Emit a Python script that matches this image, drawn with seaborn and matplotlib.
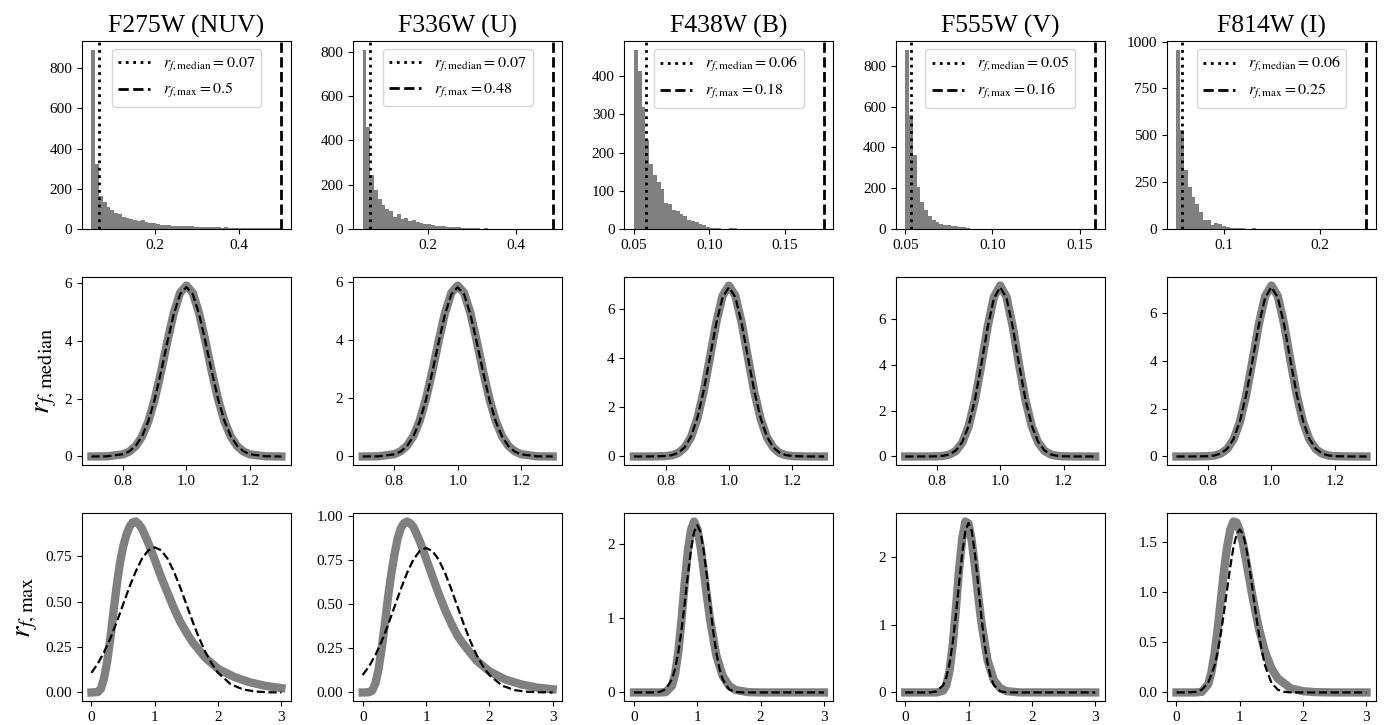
import numpy as np
import matplotlib
matplotlib.use("Agg")
import matplotlib.pyplot as plt
import seaborn as sns

# === FONT SETUP ===
plt.rcParams["font.family"] = "serif"
plt.rcParams["font.serif"] = ["Liberation Serif", "DejaVu Serif"]
plt.rcParams["mathtext.fontset"] = "stix"
plt.rcParams["xtick.labelsize"] = 11
plt.rcParams["ytick.labelsize"] = 11

# === DATA ===
filters = ["F275W (NUV)", "F336W (U)", "F438W (B)", "F555W (V)", "F814W (I)"]

# top row: histograms of r_f (50 bins between min and max)
r_min = [0.05, 0.05, 0.05, 0.05, 0.05]
r_max = [0.50, 0.485, 0.176, 0.159, 0.249]
r_median = [0.067, 0.067, 0.058, 0.0534, 0.0555]
median_label = ["0.07", "0.07", "0.06", "0.05", "0.06"]
max_label = ["0.5", "0.48", "0.18", "0.16", "0.25"]

counts_f275w = [890, 325, 165, 135, 110, 95, 80, 76, 62, 57, 50, 46, 40, 44, 35, 31, 30, 26,
                22, 19, 18, 17, 15, 16, 14, 13, 14, 12, 11, 12, 10, 9, 8, 8, 7, 9, 5, 4, 5,
                4, 3, 4, 3, 3, 5, 4, 3, 3, 4, 5]
counts_f336w = [807, 460, 243, 175, 137, 107, 92, 81, 54, 66, 45, 48, 36, 40, 30, 27, 24, 22,
                18, 15, 14, 12, 10, 11, 9, 10, 6, 5, 7, 3, 4, 2, 3, 2, 1, 2, 1, 1, 0, 1, 0, 0,
                1, 0, 0, 0, 0, 0, 0, 1]
counts_f438w = [468, 414, 320, 232, 171, 141, 123, 106, 68, 65, 49, 47, 40, 33, 24, 21, 18, 12,
                10, 6, 4, 3, 2, 1, 1, 3, 2, 0, 0, 0, 0, 0, 0, 0, 0, 0, 0, 0, 0, 0, 0, 0, 0, 0,
                0, 0, 0, 0, 0, 1]
counts_f555w = [877, 558, 365, 206, 133, 92, 62, 43, 34, 26, 21, 18, 15, 13, 10, 8, 3, 1, 0, 0,
                0, 0, 0, 0, 0, 0, 0, 0, 0, 0, 0, 0, 0, 0, 0, 0, 0, 0, 0, 0, 0, 0, 0, 0, 0, 0,
                0, 0, 0, 1]
counts_f814w = [955, 528, 317, 225, 171, 135, 91, 46, 46, 20, 32, 25, 14, 10, 8, 8, 7, 6, 0, 0,
                5, 0, 0, 0, 0, 0, 0, 0, 0, 0, 0, 0, 0, 0, 0, 0, 0, 0, 0, 0, 0, 0, 0, 0, 0, 0,
                0, 0, 0, 1]
hist_counts = [counts_f275w, counts_f336w, counts_f438w, counts_f555w, counts_f814w]
hist_yticks = [[0, 200, 400, 600, 800], [0, 200, 400, 600, 800], [0, 100, 200, 300, 400],
               [0, 200, 400, 600, 800], [0, 250, 500, 750, 1000]]

# middle row: r_f,median curves
x_mid = [0.70, 0.75, 0.80, 0.82, 0.84, 0.86, 0.88, 0.90, 0.92, 0.94, 0.96, 0.98, 1.00,
         1.02, 1.04, 1.06, 1.08, 1.10, 1.12, 1.14, 1.16, 1.18, 1.20, 1.25, 1.30]
mid_grey_f275w = [0.00, 0.006, 0.074, 0.17, 0.36, 0.69, 1.22, 1.98, 2.93, 3.98, 4.95, 5.65, 5.90,
                  5.65, 4.95, 3.98, 2.93, 1.98, 1.22, 0.69, 0.36, 0.17, 0.074, 0.006, 0.00]
mid_dash_f275w = [0.00, 0.006, 0.08, 0.18, 0.37, 0.70, 1.23, 1.98, 2.93, 3.96, 4.92, 5.60, 5.85,
                  5.60, 4.92, 3.96, 2.93, 1.98, 1.23, 0.70, 0.37, 0.18, 0.08, 0.006, 0.00]
mid_grey_f336w = [0.00, 0.006, 0.08, 0.18, 0.37, 0.70, 1.23, 1.99, 2.94, 3.98, 4.94, 5.63, 5.88,
                  5.63, 4.94, 3.98, 2.94, 1.99, 1.23, 0.70, 0.37, 0.18, 0.08, 0.006, 0.00]
mid_dash_f336w = [0.00, 0.006, 0.075, 0.17, 0.36, 0.69, 1.21, 1.96, 2.91, 3.94, 4.90, 5.58, 5.82,
                  5.58, 4.90, 3.94, 2.91, 1.96, 1.21, 0.69, 0.36, 0.17, 0.075, 0.006, 0.00]
mid_grey_f438w = [0.00, 0.00, 0.016, 0.05, 0.14, 0.36, 0.78, 1.53, 2.63, 4.02, 5.45, 6.54, 6.95,
                  6.54, 5.45, 4.02, 2.63, 1.53, 0.78, 0.36, 0.14, 0.05, 0.016, 0.00, 0.00]
mid_dash_f438w = [0.00, 0.001, 0.018, 0.056, 0.15, 0.37, 0.81, 1.56, 2.66, 4.03, 5.42, 6.48, 6.88,
                  6.48, 5.42, 4.03, 2.66, 1.56, 0.81, 0.37, 0.15, 0.056, 0.018, 0.001, 0.00]
mid_grey_f555w = [0.00, 0.00, 0.007, 0.026, 0.085, 0.24, 0.60, 1.30, 2.44, 3.97, 5.63, 6.95, 7.45,
                  6.95, 5.63, 3.97, 2.44, 1.30, 0.60, 0.24, 0.085, 0.026, 0.007, 0.00, 0.00]
mid_dash_f555w = [0.00, 0.00, 0.008, 0.03, 0.09, 0.26, 0.63, 1.33, 2.46, 3.98, 5.61, 6.89, 7.38,
                  6.89, 5.61, 3.98, 2.46, 1.33, 0.63, 0.26, 0.09, 0.03, 0.008, 0.00, 0.00]
mid_grey_f814w = [0.00, 0.00, 0.012, 0.039, 0.12, 0.31, 0.71, 1.43, 2.56, 4.01, 5.53, 6.71, 7.15,
                  6.71, 5.53, 4.01, 2.56, 1.43, 0.71, 0.31, 0.12, 0.039, 0.012, 0.00, 0.00]
mid_dash_f814w = [0.00, 0.00, 0.013, 0.043, 0.125, 0.32, 0.73, 1.46, 2.58, 4.01, 5.50, 6.65, 7.08,
                  6.65, 5.50, 4.01, 2.58, 1.46, 0.73, 0.32, 0.125, 0.043, 0.013, 0.00, 0.00]
mid_grey = [mid_grey_f275w, mid_grey_f336w, mid_grey_f438w, mid_grey_f555w, mid_grey_f814w]
mid_dash = [mid_dash_f275w, mid_dash_f336w, mid_dash_f438w, mid_dash_f555w, mid_dash_f814w]

# bottom row: r_f,max curves (each read at its own x samples)
xg_wide = [0, 0.1, 0.15, 0.2, 0.25, 0.3, 0.35, 0.4, 0.45, 0.5, 0.55, 0.6, 0.65, 0.7, 0.75, 0.8,
           0.85, 0.9, 1.0, 1.1, 1.2, 1.3, 1.4, 1.5, 1.6, 1.8, 2.0, 2.25, 2.5, 2.75, 3.0]
xd_wide = [0, 0.1, 0.2, 0.3, 0.4, 0.5, 0.6, 0.7, 0.8, 0.9, 1.0, 1.1, 1.2, 1.3, 1.4, 1.5, 1.6,
           1.7, 1.8, 1.9, 2.0, 2.2, 2.4, 2.6, 2.8, 3.0]
low_grey_f275w = [0.0, 0.002, 0.02, 0.08, 0.175, 0.30, 0.45, 0.59, 0.71, 0.80, 0.865, 0.91, 0.935,
                  0.94, 0.925, 0.90, 0.86, 0.82, 0.73, 0.635, 0.55, 0.465, 0.39, 0.33, 0.275,
                  0.19, 0.13, 0.086, 0.056, 0.036, 0.024]
low_dash_f275w = [0.108, 0.158, 0.222, 0.299, 0.388, 0.484, 0.580, 0.666, 0.737, 0.782, 0.798,
                  0.782, 0.737, 0.666, 0.580, 0.484, 0.388, 0.299, 0.222, 0.158, 0.108, 0.045,
                  0.016, 0.005, 0.001, 0.0]
low_grey_f336w = [0.0, 0.001, 0.011, 0.05, 0.13, 0.25, 0.39, 0.54, 0.67, 0.78, 0.87, 0.93, 0.96,
                  0.97, 0.96, 0.94, 0.90, 0.86, 0.76, 0.66, 0.56, 0.47, 0.39, 0.32, 0.27,
                  0.18, 0.12, 0.074, 0.046, 0.028, 0.018]
low_dash_f336w = [0.099, 0.148, 0.212, 0.291, 0.383, 0.484, 0.585, 0.678, 0.754, 0.803, 0.82,
                  0.803, 0.754, 0.678, 0.585, 0.484, 0.383, 0.291, 0.212, 0.148, 0.099, 0.039,
                  0.013, 0.004, 0.001, 0.0]

xg_f438w = [0, 0.4, 0.5, 0.6, 0.65, 0.7, 0.75, 0.8, 0.85, 0.9, 0.95, 1.0, 1.05, 1.1, 1.15, 1.2,
            1.3, 1.4, 1.5, 1.6, 1.8, 2.0, 3.0]
low_grey_f438w = [0, 0, 0.004, 0.088, 0.25, 0.54, 0.97, 1.46, 1.90, 2.19, 2.30, 2.20, 1.97, 1.65,
                  1.31, 0.99, 0.50, 0.225, 0.092, 0.035, 0.004, 0, 0]
xd_narrow = [0, 0.3, 0.4, 0.5, 0.6, 0.65, 0.7, 0.75, 0.8, 0.85, 0.9, 0.95, 1.0, 1.05, 1.1, 1.15,
             1.2, 1.25, 1.3, 1.35, 1.4, 1.5, 1.6, 1.7, 2.0, 3.0]
low_dash_f438w = [0, 0.0005, 0.007, 0.042, 0.177, 0.321, 0.538, 0.833, 1.191, 1.573, 1.919,
                  2.162, 2.25, 2.162, 1.919, 1.573, 1.191, 0.833, 0.538, 0.321, 0.177, 0.042,
                  0.007, 0.0005, 0, 0]

xg_f555w = [0, 0.5, 0.6, 0.65, 0.7, 0.75, 0.8, 0.85, 0.9, 0.95, 1.0, 1.05, 1.1, 1.15, 1.2, 1.3,
            1.4, 1.5, 1.6, 1.8, 3.0]
low_grey_f555w = [0, 0, 0.028, 0.11, 0.32, 0.70, 1.23, 1.81, 2.27, 2.52, 2.49, 2.24, 1.86, 1.44,
                  1.05, 0.475, 0.18, 0.062, 0.019, 0.001, 0]
low_dash_f555w = [0, 0, 0.001, 0.018, 0.108, 0.226, 0.427, 0.733, 1.14, 1.607, 2.054, 2.38, 2.5,
                  2.38, 2.054, 1.607, 1.14, 0.733, 0.427, 0.226, 0.108, 0.018, 0.001, 0, 0, 0]

xg_f814w = [0, 0.3, 0.4, 0.5, 0.55, 0.6, 0.65, 0.7, 0.75, 0.8, 0.85, 0.9, 0.95, 1.0, 1.05, 1.1,
            1.2, 1.3, 1.4, 1.5, 1.6, 1.8, 2.0, 2.2, 2.5, 3.0]
low_grey_f814w = [0, 0, 0.006, 0.081, 0.195, 0.38, 0.63, 0.92, 1.21, 1.45, 1.62, 1.70, 1.69,
                  1.61, 1.48, 1.31, 0.955, 0.64, 0.40, 0.24, 0.14, 0.042, 0.012, 0.003, 0, 0]
xd_f814w = [0, 0.2, 0.3, 0.4, 0.5, 0.6, 0.65, 0.7, 0.75, 0.8, 0.85, 0.9, 0.95, 1.0, 1.05, 1.1,
            1.15, 1.2, 1.25, 1.3, 1.35, 1.4, 1.5, 1.6, 1.7, 1.8, 2.0, 3.0]
low_dash_f814w = [0, 0.001, 0.006, 0.027, 0.095, 0.264, 0.404, 0.584, 0.798, 1.029, 1.255, 1.446,
                  1.575, 1.62, 1.575, 1.446, 1.255, 1.029, 0.798, 0.584, 0.404, 0.264, 0.095,
                  0.027, 0.006, 0.001, 0, 0]

low_grey = [(xg_wide, low_grey_f275w), (xg_wide, low_grey_f336w), (xg_f438w, low_grey_f438w),
            (xg_f555w, low_grey_f555w), (xg_f814w, low_grey_f814w)]
low_dash = [(xd_wide, low_dash_f275w), (xd_wide, low_dash_f336w), (xd_narrow, low_dash_f438w),
            (xd_narrow, low_dash_f555w), (xd_f814w, low_dash_f814w)]
low_yticks = [[0, 0.25, 0.5, 0.75], [0, 0.25, 0.5, 0.75, 1.0], [0, 1, 2], [0, 1, 2],
              [0, 0.5, 1.0, 1.5]]
low_fmt = ["%.2f", "%.2f", "%d", "%d", "%.1f"]

# === PLOT ===
fig, axes = plt.subplots(3, 5, figsize=(13.84, 7.25), dpi=100)
fig.subplots_adjust(left=0.0592, right=0.9942, top=0.9434, bottom=0.0331,
                    wspace=0.298, hspace=0.255)

grey = "#808080"

for j in range(5):
    # --- histogram row ---
    ax = axes[0, j]
    n_bins = len(hist_counts[j])
    width = (r_max[j] - r_min[j]) / n_bins
    centers = [r_min[j] + (i + 0.5) * width for i in range(n_bins)]
    sns.histplot(x=centers, weights=hist_counts[j], bins=n_bins,
                 binrange=(r_min[j], r_max[j]), color=grey, alpha=1,
                 linewidth=0, ax=ax)
    ax.axvline(r_median[j], color="black", ls=":", lw=2,
               label=r"$r_{f,\mathrm{median}} = %s$" % median_label[j])
    ax.axvline(r_max[j], color="black", ls="--", lw=2,
               label=r"$r_{f,\max} = %s$" % max_label[j])
    ax.set_ylabel("")
    ax.set_yticks(hist_yticks[j])
    ax.legend(loc="upper center", fontsize=11.5)
    ax.set_title(filters[j], fontsize=18.5)

    # --- r_f,median row ---
    ax = axes[1, j]
    sns.lineplot(x=x_mid, y=mid_grey[j], color=grey, lw=6, ax=ax)
    sns.lineplot(x=x_mid, y=mid_dash[j], color="black", lw=1.6, ls="--", ax=ax)
    ax.set_xticks([0.8, 1.0, 1.2])
    ax.set_yticks([0, 2, 4, 6])

    # --- r_f,max row ---
    ax = axes[2, j]
    sns.lineplot(x=low_grey[j][0], y=low_grey[j][1], color=grey, lw=6, ax=ax)
    sns.lineplot(x=low_dash[j][0], y=low_dash[j][1], color="black", lw=1.6, ls="--", ax=ax)
    ax.set_xticks([0, 1, 2, 3])
    ax.set_yticks(low_yticks[j])
    ax.set_yticklabels([low_fmt[j] % v for v in low_yticks[j]])

axes[1, 0].set_ylabel(r"$r_{f,\mathrm{median}}$", fontsize=21)
axes[2, 0].set_ylabel(r"$r_{f,\max}$", fontsize=21)

plt.savefig("out.png", dpi=100)
